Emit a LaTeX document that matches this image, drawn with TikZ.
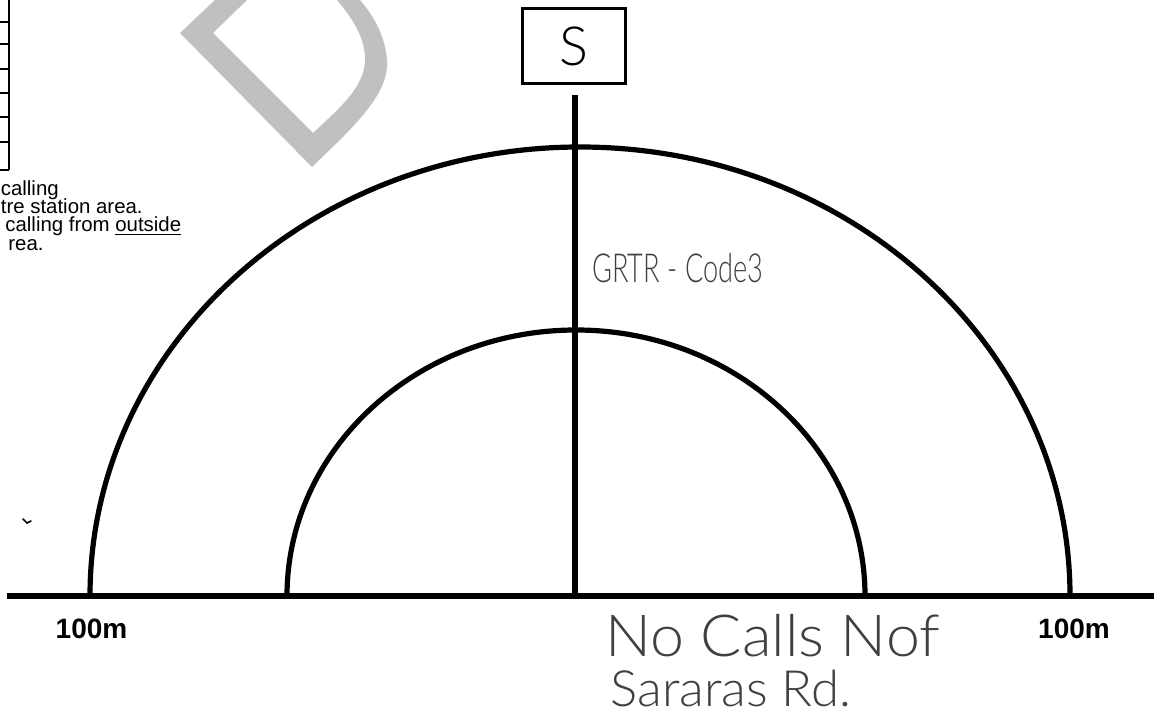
\documentclass[tikz,border=0pt]{standalone}
\usepackage{fontspec}
\setmainfont{Liberation Sans}
\newfontfamily\hand{Lato Light}
\definecolor{wm}{HTML}{C0C0C0}
\definecolor{pencil}{HTML}{404040}
\tikzset{
  heavy/.style={line width=2.6pt},
  sbox/.style={draw, line width=1.5pt, minimum width=51.5pt, minimum height=37.5pt, inner sep=0pt},
  label100/.style={anchor=base, inner sep=0pt, font=\bfseries\fontsize{14}{14}\selectfont},
  note/.style={anchor=base west, inner sep=0pt, text depth=0pt, font=\fontsize{10.2}{10}\selectfont},
  handtext/.style={anchor=base west, inner sep=0pt, text depth=0pt, text=pencil},
  tabline/.style={line width=0.6pt}
}
\begin{document}
\begin{tikzpicture}[x=0.5pt,y=-0.5pt]
\useasboundingbox (0,0) rectangle (1154,722);
\clip (0,0) rectangle (1154,722);
% watermark fragment
\fill[wm] (215,0) -- (180,33) -- (312,167)
  .. controls (350,130) and (390,95) .. (387,60)
  .. controls (385,35) and (373,15) .. (360,0)
  -- (337,0)
  .. controls (352,18) and (366,38) .. (365,62)
  .. controls (363,90) and (335,112) .. (313,133)
  -- (213,33) -- (247,0) -- cycle;
% table fragment
\draw[line width=1pt] (8.5,0) -- (8.5,170);
\foreach \yy in {22,44,69,93,117,142} \draw[tabline] (0,\yy) -- (8.5,\yy);
\draw[line width=1pt] (0,170) -- (9,170);
% notes
\node[note] (t1) at (0.5,195) {calling};
\node[note] (t2) at (0.5,213) {tre station area.};
\node[note] (t3) at (5,231.5) {calling from \underline{outside}};
\node[note] (t4) at (8,250) {rea.};
% small mark
\draw[line width=0.8pt, line cap=round] (23,519) -- (27,523) -- (31,521);
% station box and line
\node[sbox, font=\hand\fontsize{27}{27}\selectfont] (S) at (574,46) {S};
\coordinate (vtop) at (575,95);
\coordinate (vbot) at (575,596);
\coordinate (bl) at (7,596);
\coordinate (br) at (1154,596);
\draw[heavy] (bl) -- (br);
\draw[heavy] (vtop) -- (vbot);
% arcs
\draw[heavy] (90,596) arc[start angle=180, end angle=360, x radius=490, y radius=449];
\draw[heavy] (287,596) arc[start angle=180, end angle=360, x radius=289, y radius=266];
% labels
\node[label100] (l100) at (91.5,638) {100m};
\node[label100] (r100) at (1074,638) {100m};
% handwriting
\node[handtext, font=\hand\fontsize{20}{20}\selectfont, xscale=0.68] (grtr) at (592,282) {GRTR - Code3};
\node[handtext, font=\hand\fontsize{29}{29}\selectfont, xscale=1.05] (nocalls) at (605,656) {No Calls Nof};
\node[handtext, font=\hand\fontsize{25}{25}\selectfont, xscale=1.02] (sararas) at (610,706) {Sararas Rd.};
\end{tikzpicture}
\end{document}
